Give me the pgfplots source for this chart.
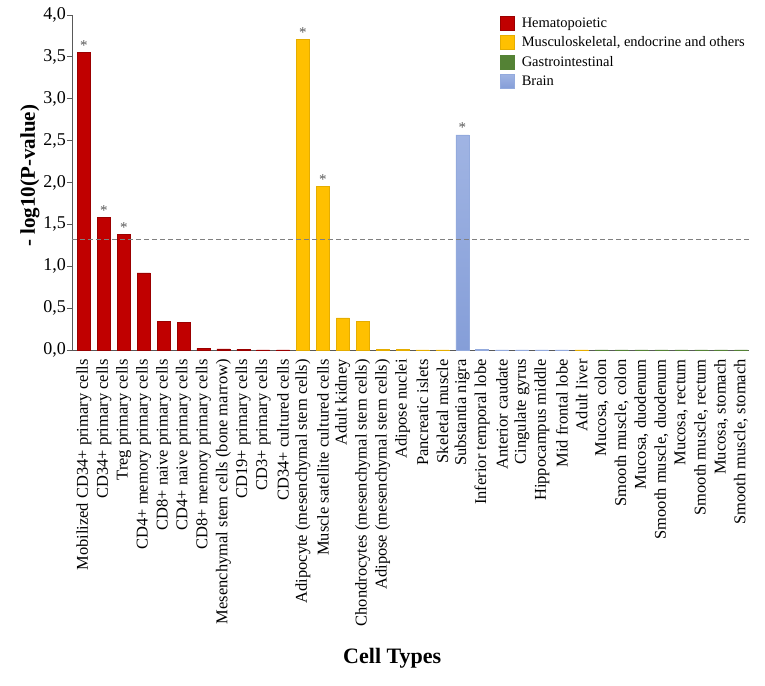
\documentclass[border=0pt]{standalone}
\usepackage{fontspec}
\setmainfont{Liberation Serif}
\usepackage{pgfplots}
\pgfplotsset{compat=1.18}

\definecolor{hema}{HTML}{C00000}
\definecolor{musc}{HTML}{FFC000}
\definecolor{gast}{HTML}{548235}
\definecolor{brain}{HTML}{93AADD}
\definecolor{braintop}{HTML}{A0B4E3}
\definecolor{brainbot}{HTML}{859ED8}
\definecolor{axisgray}{HTML}{595959}

\begin{document}
\begin{tikzpicture}
  \begin{axis}[
      scale only axis,
      width=677pt, height=335pt,
      xmin=-0.6, xmax=33.4,
      ymin=0, ymax=4,
      axis lines*=left,
      axis line style={axisgray, line width=0.8pt},
      ybar, bar width=13pt, bar shift=0pt,
      xtick={0,...,33},
      xticklabels={
        Mobilized CD34+ primary cells,
        CD34+ primary cells,
        Treg primary cells,
        CD4+ memory primary cells,
        CD8+ naive primary cells,
        CD4+ naive primary cells,
        CD8+ memory primary cells,
        Mesenchymal stem cells (bone marrow),
        CD19+ primary cells,
        CD3+ primary cells,
        CD34+ cultured cells,
        Adipocyte (mesenchymal stem cells),
        Muscle satellite cultured cells,
        Adult kidney,
        Chondrocytes (mesenchymal stem cells),
        Adipose (mesenchymal stem cells),
        Adipose nuclei,
        Pancreatic islets,
        Skeletal muscle,
        Substantia nigra,
        Inferior temporal lobe,
        Anterior caudate,
        Cingulate gyrus,
        Hippocampus middle,
        Mid frontal lobe,
        Adult liver,
        {Mucosa, colon},
        {Smooth muscle, colon},
        {Mucosa, duodenum},
        {Smooth muscle, duodenum},
        {Mucosa, rectum},
        {Smooth muscle, rectum},
        {Mucosa, stomach},
        {Smooth muscle, stomach}},
      xticklabel style={rotate=90, anchor=east, font=\fontsize{16.5}{18}\selectfont, inner sep=4pt},
      x tick style={draw=none},
      ytick={0,0.5,...,4},
      y tick style={axisgray, line width=0.8pt},
      tick align=outside,
      major tick length=5pt,
      yticklabel style={font=\fontsize{18}{20}\selectfont, inner sep=1pt},
      /pgf/number format/.cd, use comma, fixed, fixed zerofill, precision=1, assume math mode=true,
      /pgfplots/.cd,
      ylabel={- log10(P-value)},
      ylabel style={font=\bfseries\fontsize{21}{24}\selectfont, at={(axis description cs:-0.062,0.52)}, rotate=0, anchor=center},
      xlabel={Cell Types},
      xlabel style={font=\bfseries\fontsize{22}{26}\selectfont, at={(axis description cs:0.473,-0.92)}, anchor=center},
      legend style={draw=none, fill=none, at={(0.628,1.004)}, anchor=north west,
        font=\fontsize{14.5}{16}\selectfont, row sep=3.8pt,
        /tikz/every odd column/.append style={column sep=5pt}},
      legend cell align=left,
      legend image code/.code={\fill[#1] (0pt,-7pt) rectangle (14pt,7pt);},
    ]
    \coordinate (ll) at (rel axis cs:0,0);
    \coordinate (ur) at (rel axis cs:1,1);

    % Hematopoietic
    \addplot[fill=hema, draw=hema!80!black] coordinates {
      (0,3.55) (1,1.58) (2,1.38) (3,0.92) (4,0.346) (5,0.334)
      (6,0.02) (7,0.012) (8,0.004) (9,0.003) (10,0.003)};
    % Musculoskeletal, endocrine and others
    \addplot[fill=musc, draw=musc!90!black] coordinates {
      (11,3.71) (12,1.95) (13,0.385) (14,0.345) (15,0.006)
      (16,0.004) (17,0.003) (18,0.003) (25,0.003)};
    % Gastrointestinal
    \addplot[fill=gast, draw=gast] coordinates {
      (26,0.002) (27,0.002) (28,0.002) (29,0.002)
      (30,0.002) (31,0.002) (32,0.002) (33,0.002)};
    % Brain
    \addplot[top color=braintop, bottom color=brainbot, draw=brain] coordinates {
      (19,2.57) (20,0.006) (21,0.002) (22,0.002) (23,0.002) (24,0.002)};
    \legend{Hematopoietic, {Musculoskeletal, endocrine and others}, Gastrointestinal, Brain}

    % significance threshold
    \addplot[sharp plot, forget plot, gray, dash pattern=on 5pt off 3pt, line width=0.7pt]
      coordinates {(-0.6,1.32) (33.4,1.32)};

    % significance stars
    \addplot[forget plot, draw=none, mark=none, sharp plot,
      nodes near coords={*},
      every node near coord/.style={anchor=south, text=axisgray, font=\fontsize{15}{16}\selectfont, inner sep=2pt}]
      coordinates {(0,3.55) (1,1.58) (2,1.38) (11,3.71) (12,1.95) (19,2.57)};
  \end{axis}
  \pgfresetboundingbox
  \path ([shift={(-72pt,-335pt)}]ll) rectangle ([shift={(16pt,15pt)}]ur);
\end{tikzpicture}
\end{document}
